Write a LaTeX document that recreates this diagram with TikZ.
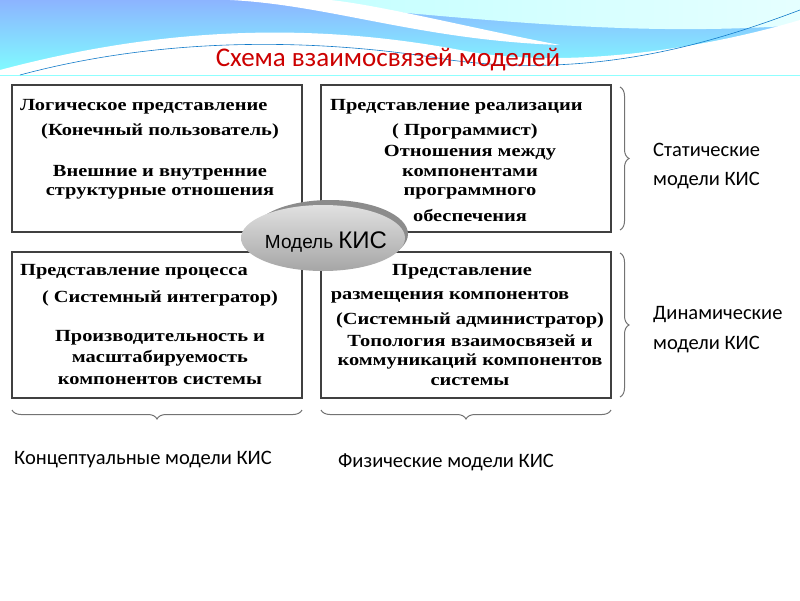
\documentclass[tikz,border=0pt]{standalone}
\usepackage{fontspec}
\setmainfont{Liberation Serif}
\newfontfamily\carlitofont{Carlito}
\usetikzlibrary{decorations.pathreplacing,shapes.geometric}
\newcommand{\wtx}[1]{\scalebox{1.2}[1]{#1}}
\begin{document}
\begin{tikzpicture}[x=1pt,y=-1pt,
  box/.style={draw=black!75,line width=1.2pt},
  bt/.style={font=\bfseries\fontsize{17}{17}\selectfont,inner sep=0pt},
  lab/.style={font=\carlitofont\fontsize{20.5}{20.5}\selectfont,inner sep=0pt,anchor=west},
  brc/.style={draw=black!55,line width=1pt,decoration={brace,amplitude=9pt},decorate}]
\useasboundingbox (0,0) rectangle (800,600);
\fill[white] (0,0) rectangle (800,600);
% banner
\shade[top color=cyan!35!blue!45,bottom color=cyan!50] (0,0) rectangle (800,75);
\shade[left color=cyan!25,right color=cyan!10!white] (240,0) .. controls (420,10) and (600,40) .. (800,25) -- (800,0) -- cycle;
\fill[white] (0,75) -- (0,70) .. controls (150,30) and (300,20) .. (460,50) .. controls (560,70) and (700,50) .. (800,20) -- (800,75) -- cycle;
\fill[white] (230,0) .. controls (330,5) and (420,40) .. (560,45) .. controls (480,30) and (380,5) .. (330,0) -- cycle;
\draw[cyan!60!blue,line width=0.6pt] (20,75) .. controls (150,40) and (300,35) .. (450,60) .. controls (600,80) and (720,40) .. (800,10);
\node[font=\carlitofont\fontsize{27}{27}\selectfont,text=red!80!black] (title) at (388,60) {Схема взаимосвязей моделей};
% boxes
\draw[box] (12,85) rectangle (302,232);
\draw[box] (321,85) rectangle (611,232);
\draw[box] (12,252) rectangle (302,398);
\draw[box] (321,252) rectangle (611,398);
% box1
\node[bt,anchor=west] (a1) at (20,107) {\wtx{Логическое представление}};
\node[bt] (a2) at (160,131) {\wtx{(Конечный пользователь)}};
\node[bt] (a3) at (160,173) {\wtx{Внешние и внутренние}};
\node[bt] (a4) at (160,193) {\wtx{структурные отношения}};
% box2
\node[bt,anchor=west] (b1) at (330,107) {\wtx{Представление реализации}};
\node[bt] (b2) at (465,131) {\wtx{( Программист)}};
\node[bt] (b3) at (470,153) {\wtx{Отношения между}};
\node[bt] (b4) at (470,173) {\wtx{компонентами}};
\node[bt] (b5) at (470,193) {\wtx{программного}};
\node[bt] (b6) at (470,215) {\wtx{обеспечения}};
% box3
\node[bt,anchor=west] (c1) at (20,272) {\wtx{Представление процесса}};
\node[bt] (c2) at (160,298) {\wtx{( Системный интегратор)}};
\node[bt] (c3) at (160,338) {\wtx{Производительность и}};
\node[bt] (c4) at (160,358) {\wtx{масштабируемость}};
\node[bt] (c5) at (160,381) {\wtx{компонентов системы}};
% box4
\node[bt] (d1) at (462,272) {\wtx{Представление}};
\node[bt] (d2) at (450,297) {\wtx{размещения компонентов}};
\node[bt] (d3) at (470,320) {\wtx{(Системный администратор)}};
\node[bt] (d4) at (470,341) {\wtx{Топология взаимосвязей и}};
\node[bt] (d5) at (470,361) {\wtx{коммуникаций компонентов}};
\begin{scope}
\clip (321,370) rectangle (611,386);
\node[bt] (d6) at (470,382) {\wtx{системы}};
\end{scope}
% ellipse
\fill[black!45] (330,234) ellipse (78 and 34);
\shade[top color=black!12,bottom color=black!35] (323,238) ellipse (82 and 33);
\node[font=\fontspec{Liberation Sans}\fontsize{19}{19}\selectfont] (m) at (326,242) {Модель {\fontsize{24}{24}\selectfont КИС}};
% braces
\draw[brc] (620,87) -- (620,230);
\draw[brc] (620,253) -- (620,397);
\draw[brc] (302,410) -- (12,410);
\draw[brc] (611,410) -- (321,410);
\node[lab] (s1) at (653,150) {Статические};
\node[lab] (s2) at (653,181) {модели КИС};
\node[lab] (s3) at (653,315) {Динамические};
\node[lab] (s4) at (653,345) {модели КИС};
\node[lab] (k) at (14,460) {Концептуальные модели КИС};
\node[lab] (f) at (338,462) {Физические модели КИС};
\end{tikzpicture}
\end{document}
